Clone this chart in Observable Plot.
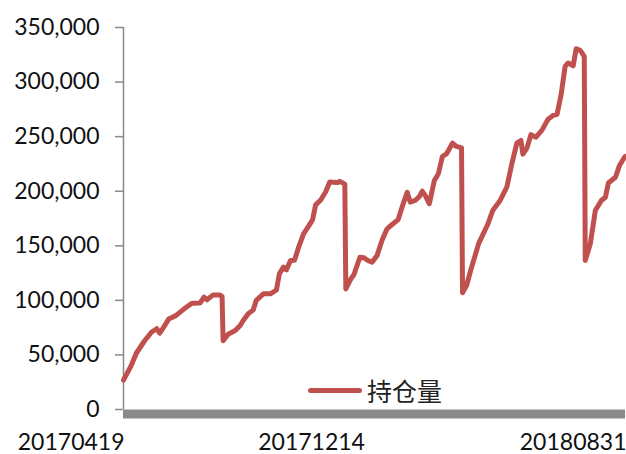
<!DOCTYPE html>
<html>
<head>
<meta charset="utf-8">
<script src="https://cdn.jsdelivr.net/npm/d3@7"></script>
<script src="https://cdn.jsdelivr.net/npm/@observablehq/plot@0.6"></script>
<style>
  html, body { margin: 0; padding: 0; background: #fff; }
  #wrap { position: relative; width: 626px; height: 454px; }
  #legend { position: absolute; left: 308px; top: 372px; display: flex; align-items: center;
    font-family: "Noto Sans CJK SC", sans-serif; font-size: 25px; color: #222; }
  #legend .sw { width: 54px; height: 5px; background: #C0504D; border-radius: 3px; margin-right: 5px; }
</style>
</head>
<body>
<div id="wrap"><div id="legend"><span class="sw"></span><span id="legtext"></span></div></div>
<script>
const seriesName = "持仓量";
const dates = ["20170419","20170426","20170502","20170510","20170517","20170522","20170525","20170529","20170603","20170610",
"20170618","20170626","20170704","20170708","20170711","20170717","20170724","20170726","20170727","20170801",
"20170808","20170813","20170816","20170821","20170826","20170829","20170905","20170912","20170918","20170921",
"20170925","20170928","20171002","20171006","20171010","20171015","20171020","20171024","20171027","20171101",
"20171106","20171110","20171118","20171120","20171125","20171126","20171201","20171204","20171210","20171214",
"20171218","20171222","20171227","20180101","20180106","20180111","20180117","20180122","20180126","20180129",
"20180203","20180207","20180210","20180213","20180217","20180222","20180226","20180302","20180306","20180308",
"20180312","20180316","20180321","20180322","20180326","20180331","20180403","20180407","20180416","20180421",
"20180428","20180505","20180510","20180515","20180519","20180521","20180525","20180529","20180603","20180609",
"20180615","20180620","20180624","20180628","20180702","20180705","20180710","20180713","20180717","20180721",
"20180722","20180727","20180801","20180807","20180811","20180814","20180821","20180825","20180830","20180831"];
const values = [27000,39000,52000,63000,71000,74000,70000,75500,83000,86000,
92000,97400,97500,103000,100500,105000,104800,103500,63000,69000,
72300,77000,81500,87700,91300,100000,106000,106000,109500,124500,
130500,128000,136500,136800,148500,161000,168000,174000,187500,192000,
199500,208500,208000,209000,206500,110500,119700,123500,139500,139000,
136500,135000,141000,155000,165500,169500,174000,188500,199000,190000,
191500,195000,200000,196000,188500,209800,216000,231800,234200,237300,
244000,241000,239700,107000,113600,130400,139500,152000,169500,182300,
191000,203700,225000,244000,246500,234000,239500,251800,249500,256000,
266000,269400,270500,288500,314300,317500,315000,330500,329000,323500,
136500,151800,182300,191500,194500,207500,212800,223500,231200,232000];
const xTickLabels = ["20170419","20171214","20180831"];
const yTicks = [0,50000,100000,150000,200000,250000,300000,350000];

const parse = d3.utcParse("%Y%m%d");
const fmt = d3.utcFormat("%Y%m%d");
const data = dates.map((d, i) => ({date: parse(d), value: values[i]}));
const d0 = data[0].date, dN = data[data.length - 1].date;

document.getElementById("legtext").textContent = seriesName;

const chart = Plot.plot({
  width: 626, height: 454,
  marginLeft: 123, marginRight: 1, marginTop: 27, marginBottom: 45,
  style: {fontFamily: "Lato, 'Open Sans', sans-serif", fontSize: "23px", color: "#111", background: "white"},
  x: {type: "utc", domain: [d0, dN], axis: null},
  y: {domain: [0, 350000], axis: null},
  marks: [
    Plot.ruleX([d0], {y1: 0, y2: 350000, stroke: "#898989", strokeWidth: 1.5}),
    Plot.axisY({ticks: yTicks, tickFormat: d3.format(","), tickSize: 8, tickPadding: 16, label: null,
      stroke: "#898989", strokeWidth: 1.5, fill: "#111", fontSize: 23}),
    Plot.ruleY([0], {stroke: "#898989", strokeWidth: 9, dy: 4.5}),
    Plot.lineY(data, {x: "date", y: "value", stroke: "#C0504D", strokeWidth: 5,
      strokeLinejoin: "round", strokeLinecap: "round"}),
    Plot.axisX({ticks: xTickLabels.map(parse), tickFormat: fmt, tickSize: 0, tickPadding: 24, label: null,
      textAnchor: "end", dx: 1, fill: "#111", fontSize: 23})
  ]
});
document.getElementById("wrap").prepend(chart);
</script>
</body>
</html>
